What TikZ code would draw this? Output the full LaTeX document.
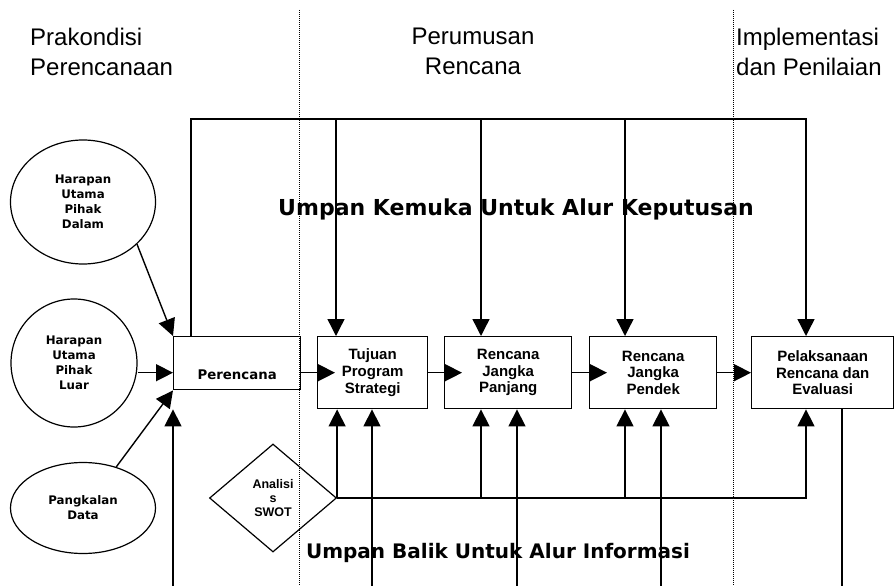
\documentclass[tikz,border=0pt]{standalone}
\usepackage{fontspec}
\setmainfont{Liberation Sans}
\newfontfamily\tahoma{DejaVu Sans}
\usetikzlibrary{shapes.geometric, arrows.meta, positioning, calc}

\begin{document}
\begin{tikzpicture}[x=1pt, y=-1pt, >={Triangle[length=17pt, width=17pt]},
  box/.style={rectangle, draw, line width=1.4pt, minimum height=72pt, inner sep=0pt,
              align=center, font=\bfseries\fontsize{15}{16.7}\selectfont},
  src/.style={ellipse, draw, line width=1.2pt, inner sep=0pt, align=center,
              font=\tahoma\bfseries\fontsize{11.8}{15}\selectfont},
  dec/.style={diamond, draw, line width=1.2pt, inner sep=0pt, align=center,
              font=\bfseries\fontsize{12.5}{14}\selectfont},
  phase/.style={inner sep=0pt, font=\fontsize{24}{30}\selectfont},
  flow/.style={inner sep=0pt, font=\tahoma\bfseries\fontsize{22}{26}\selectfont},
  arr/.style={->, line width=1.4pt},
  divider/.style={line width=0.8pt, dash pattern=on 1pt off 1pt}
]
\useasboundingbox (0,0) rectangle (894,586);

%% ---- phase dividers ----
\draw[divider] (299,10) -- (299,586);
\draw[divider] (733,10) -- (733,586);

%% ---- phase headings ----
\node[phase, align=left, anchor=north west] (pra)   at (30,28)  {Prakondisi\\Perencanaan};
\node[phase, align=center, anchor=north]    (rumus) at (473,28) {Perumusan\\Rencana};
\node[phase, align=left, anchor=north west] (impl)  at (736,28) {Implementasi\\dan Penilaian};

%% ---- inputs (left column) ----
\node[src, minimum width=145pt, minimum height=124pt] (dalam)     at (83,202) {Harapan\\Utama\\Pihak\\Dalam};
\node[src, minimum width=126pt, minimum height=128pt] (luar)      at (74,363) {Harapan\\Utama\\Pihak\\Luar};
\node[src, minimum width=145pt, minimum height=91pt]  (pangkalan) at (83,508) {Pangkalan\\Data};
\node[dec, aspect=1.18, minimum width=127pt, minimum height=108pt] (swot) at (273,498) {Analisi\\s\\SWOT};

%% ---- main row (y = 336) ----
\node[box, font=\tahoma\bfseries\fontsize{13.3}{16}\selectfont, minimum width=127pt,
      minimum height=0pt, text height=43pt, text depth=10pt, anchor=north west] (perencana) at (173,336) {Perencana};
\node[box, minimum width=110pt, anchor=north west] (tujuan)  at (317,336) {Tujuan\\Program\\Strategi};
\node[box, minimum width=127pt, anchor=north west] (panjang) at (444,336) {Rencana\\Jangka\\Panjang};
\node[box, minimum width=127pt, anchor=north west] (pendek)  at (589,336) {Rencana\\Jangka\\Pendek};
\node[box, minimum width=142pt, anchor=north west] (laksana) at (751,336) {Pelaksanaan\\Rencana dan\\Evaluasi};

%% ---- flow labels ----
\node[flow, anchor=base] (kemuka) at (516,215) {Umpan Kemuka Untuk Alur Keputusan};
\node[flow, font=\tahoma\bfseries\fontsize{20}{24}\selectfont, anchor=base] (balik) at (498,558) {Umpan Balik Untuk Alur Informasi};

%% ---- inputs into perencana ----
\draw[arr] (dalam.-38) -- (perencana.north west);
\draw[arr] (luar.east |- tujuan.west) -- (perencana.west |- tujuan.west);
\draw[arr] (pangkalan.51) -- (perencana.south west);

%% ---- main path ----
\draw[arr] (perencana.east |- tujuan.west) -- ([xshift=18pt]tujuan.west);
\draw[arr] (tujuan.east)  -- ([xshift=18pt]panjang.west);
\draw[arr] (panjang.east) -- ([xshift=18pt]pendek.west);
\draw[arr] (pendek.east)  -- (laksana.west);

%% ---- feed-forward lane above the row ----
\coordinate (ff0) at (191,119);
\coordinate (ff1) at (336,119);
\coordinate (ff2) at (481,119);
\coordinate (ff3) at (625,119);
\coordinate (ff4) at (806,119);
\draw[arr] (ff0 |- perencana.north) -- (ff0) -- (ff4) -- (ff4 |- laksana.north);
\draw[arr] (ff1) -- (ff1 |- tujuan.north);
\draw[arr] (ff2) -- (ff2 |- panjang.north);
\draw[arr] (ff3) -- (ff3 |- pendek.north);

%% ---- SWOT lane ----
\coordinate (sw2) at (481,498);
\coordinate (sw3) at (625,498);
\coordinate (sw4) at (806,498);
\draw[arr] (swot.east) -- (swot.east |- tujuan.south);
\draw[arr] (swot.east) -- (sw4) -- (sw4 |- laksana.south);
\draw[arr] (sw2) -- (sw2 |- panjang.south);
\draw[arr] (sw3) -- (sw3 |- pendek.south);

%% ---- feedback lane from below ----
\coordinate (fb0) at (173,586);
\coordinate (fb1) at (372,586);
\coordinate (fb2) at (517,586);
\coordinate (fb3) at (661,586);
\coordinate (fb4) at (842,586);
\draw[arr] (fb0) -- (fb0 |- tujuan.south);
\draw[arr] (fb1) -- (fb1 |- tujuan.south);
\draw[arr] (fb2) -- (fb2 |- panjang.south);
\draw[arr] (fb3) -- (fb3 |- pendek.south);
\draw[line width=1.4pt] (fb4 |- laksana.south) -- (fb4);

\end{tikzpicture}
\end{document}
